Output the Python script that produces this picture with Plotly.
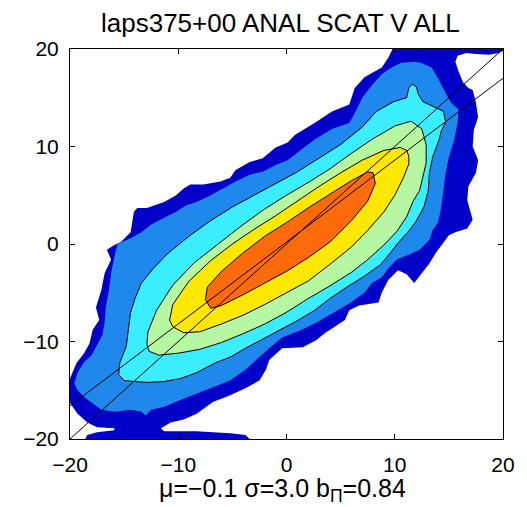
import plotly.graph_objects as go

# Filled density contours of analysis vs. observed V (data units on both axes).
# Each level is the outline of the region above that density threshold.
LEVEL_NAMES = ["1", "2", "3", "4", "5", "6"]
LEVEL_COLORS = ["#0000c8", "#1e88ec", "#3aeeff", "#b6f7a2", "#ffe800", "#ff6a0a"]
LEVEL_OUTLINED = [False, False, True, True, True, True]

level1 = [
    (9.8, 20), (9.4, 19.1), (8.8, 18.1), (7.2, 17.1), (6.3, 16.0), (5.8, 14.3), (4.2, 13.6),
    (2.7, 12.5), (0.8, 11.2), (0.1, 10.4), (-1.0, 9.9), (-2.2, 8.8), (-3.4, 8.4), (-4.7, 7.6),
    (-5.2, 6.8), (-6.1, 6.4), (-7.7, 6.1), (-8.9, 6.1), (-9.5, 5.7), (-10.2, 5.0), (-11.3, 4.3),
    (-12.9, 3.7), (-13.8, 3.7), (-14.1, 3.3), (-14.4, 1.2), (-15.3, 0.2), (-15.9, -0.1),
    (-16.6, -0.6), (-16.2, -1.6), (-16.8, -3.0), (-17.1, -4.7), (-17.6, -6.5), (-17.3, -7.8),
    (-17.9, -8.8), (-18.2, -10.2), (-18.7, -11.2), (-19.4, -12.2), (-19.8, -13.2), (-20, -13.8),
    (-20, -16.3), (-19.3, -17.4), (-18.4, -18.3), (-17.5, -18.8), (-15.9, -18.9), (-15.9, -19.1),
    (-17.5, -19.3), (-18.4, -19.6), (-18.6, -20), (-3.4, -20), (-3.8, -19.6), (-5.2, -19.4),
    (-6.8, -19.3), (-8.3, -19.2), (-9.8, -19.2), (-11.3, -19.2), (-11.6, -18.9), (-10.7, -18.3),
    (-9.5, -18.0), (-8.3, -17.4), (-6.8, -16.2), (-5.2, -15.5), (-3.8, -14.8), (-2.5, -14.0),
    (-1.9, -12.9), (-1.6, -11.9), (-0.4, -10.7), (1.5, -10.6), (2.7, -9.9), (3.6, -9.1),
    (5.4, -7.8), (5.8, -6.8), (6.7, -6.3), (8.5, -6.0), (8.8, -5.0), (9.4, -3.7), (10.3, -2.7),
    (11.1, -3.1), (11.8, -4.0), (12.4, -3.1), (13.2, -2.0), (13.8, -0.9), (14.5, 0.1),
    (15.0, 0.9), (15.6, 1.2), (16.7, 1.6), (17.2, 2.5), (17.0, 3.2), (16.7, 4.5), (16.8, 5.9),
    (17.5, 7.3), (17.7, 8.6), (17.2, 10.0), (17.3, 11.7), (17.7, 13.0), (17.5, 14.5),
    (17.2, 15.8), (16.8, 16.0), (16.3, 16.6), (15.9, 17.7), (15.6, 18.7), (15.8, 19.3),
    (16.6, 19.6), (17.5, 19.5), (18.7, 19.4), (19.6, 19.6), (20, 19.8), (20, 20),
]

level2 = [
    (-15.6, 0.0), (-14.4, 0.6), (-13.4, 1.2), (-12.5, 2.0), (-11.3, 2.7), (-10.2, 3.3),
    (-9.2, 4.0), (-8.3, 4.3), (-7.0, 5.0), (-5.9, 5.7), (-4.7, 6.4), (-3.4, 7.1), (-2.2, 7.4),
    (-1.0, 8.1), (0.1, 8.6), (1.5, 9.8), (2.7, 10.8), (4.2, 11.8), (5.8, 12.4), (6.3, 13.4),
    (7.0, 15.0), (7.9, 16.3), (8.8, 17.4), (9.7, 18.1), (10.6, 18.6), (11.8, 18.7), (12.4, 18.6),
    (13.4, 18.1), (14.0, 17.0), (14.7, 15.5), (15.2, 14.5), (15.9, 13.8), (15.8, 12.4),
    (15.5, 10.7), (15.0, 8.9), (14.7, 7.3), (14.5, 5.5), (14.3, 3.8), (14.0, 2.2), (13.5, 1.4),
    (13.2, 0.4), (12.3, -0.6), (11.3, -1.1), (10.2, -1.6), (9.4, -2.5), (8.8, -3.4), (7.9, -4.0),
    (7.2, -5.0), (5.8, -6.1), (4.2, -7.1), (2.7, -8.1), (1.2, -8.9), (-0.4, -9.6), (-1.6, -10.7),
    (-2.8, -11.9), (-3.8, -12.9), (-5.2, -14.0), (-6.8, -14.7), (-8.3, -15.3), (-9.8, -16.0),
    (-11.3, -16.7), (-12.5, -17.0), (-13.0, -17.6), (-13.4, -17.2), (-14.4, -17.0),
    (-15.9, -17.2), (-17.1, -17.0), (-18.0, -16.3), (-18.7, -15.7), (-19.3, -15.0),
    (-19.6, -14.3), (-19.3, -13.2), (-18.7, -12.1), (-18.0, -11.4), (-17.5, -10.4),
    (-17.0, -9.3), (-16.8, -8.1), (-16.7, -6.5), (-16.4, -4.7), (-16.2, -3.0), (-15.9, -1.3),
]

level3 = [
    (-15.4, -12.2), (-14.8, -10.5), (-14.6, -8.7), (-14.4, -7.0), (-14.0, -5.6), (-13.4, -4.0),
    (-12.3, -2.5), (-11.0, -1.0), (-9.0, 0.8), (-7.0, 2.4), (-5.0, 3.8), (-3.0, 5.0),
    (-1.0, 6.2), (1.0, 7.4), (3.0, 8.8), (5.0, 10.2), (7.0, 12.0), (8.3, 13.6), (9.9, 14.6),
    (11.1, 15.0), (11.3, 16.0), (11.6, 16.4), (12.0, 16.1), (12.2, 15.3), (12.6, 14.6),
    (13.5, 14.1), (14.5, 13.6), (14.7, 12.5), (14.3, 11.6), (14.1, 10.7), (13.5, 8.9),
    (13.2, 7.3), (13.1, 5.5), (12.7, 3.8), (11.9, 2.2), (11.2, 1.2), (10.3, 0.1), (9.6, -0.9),
    (8.7, -2.1), (7.2, -3.3), (5.6, -4.4), (4.0, -5.6), (2.6, -6.8), (1.1, -7.8), (-0.6, -8.8),
    (-2.2, -9.7), (-3.8, -10.7), (-5.2, -11.6), (-6.6, -12.2), (-8.3, -13.2), (-9.8, -13.8),
    (-11.3, -14.1), (-12.8, -14.2), (-14.1, -14.1), (-15.0, -14.0), (-15.5, -13.4),
]

level4 = [
    (-12.9, -10.3), (-12.8, -9.0), (-12.0, -6.8), (-10.5, -4.2), (-8.5, -1.9), (-6.0, 0.3),
    (-4.0, 2.0), (-2.0, 3.6), (0.0, 5.0), (2.0, 6.3), (4.0, 7.7), (6.0, 9.3), (8.0, 10.8),
    (10.0, 12.1), (11.5, 12.6), (12.5, 11.8), (12.9, 10.2), (12.9, 8.3), (12.6, 6.9),
    (12.3, 5.5), (11.7, 4.4), (11.1, 2.8), (10.2, 1.3), (9.0, -0.1), (7.5, -1.6), (6.0, -2.9),
    (4.0, -4.3), (2.0, -5.6), (0.0, -7.0), (-2.0, -8.2), (-4.0, -9.2), (-6.0, -10.1),
    (-8.0, -10.8), (-10.0, -11.2), (-11.8, -11.4), (-12.7, -11.0),
]

level5 = [
    (-10.8, -7.8), (-10.5, -6.2), (-9.0, -3.8), (-7.0, -1.7), (-5.0, 0.0), (-3.0, 1.5),
    (-1.0, 2.9), (1.0, 4.4), (3.0, 5.9), (5.0, 7.3), (7.0, 8.6), (9.0, 9.6), (10.5, 9.9),
    (11.1, 9.6), (11.3, 9.0), (11.3, 8.2), (10.8, 6.8), (10.0, 5.0), (9.0, 3.3), (7.5, 1.4),
    (6.0, -0.3), (4.0, -2.1), (2.0, -3.8), (0.0, -5.0), (-2.0, -6.2), (-4.0, -7.3),
    (-6.0, -8.2), (-8.0, -9.0), (-9.5, -9.1), (-10.5, -8.5),
]

level6 = [
    (-7.5, -5.7), (-7.3, -4.4), (-6.0, -2.8), (-4.0, -0.9), (-2.0, 0.8), (0.0, 2.2),
    (2.0, 3.7), (4.0, 5.1), (6.0, 6.5), (7.5, 7.4), (8.0, 7.3), (8.2, 6.2), (7.5, 4.4),
    (6.0, 2.4), (4.0, 0.2), (2.0, -1.4), (0.0, -2.8), (-2.0, -4.0), (-4.0, -5.2),
    (-6.0, -6.3), (-7.0, -6.6),
]

LEVELS = [level1, level2, level3, level4, level5, level6]

# Reference lines: perfect agreement and the fitted regression
line_x = [-20, 20]
fit_slope = 0.84
fit_intercept = 0.2

TICKS = [-20, -10, 0, 10, 20]
TITLE = "laps375+00 ANAL SCAT V ALL"
XLABEL = "\u03bc=\u22120.1 \u03c3=3.0 b<sub>\u03a0</sub>=0.84"

FONT = "Liberation Sans"

fig = go.Figure()

for name, pts, color, outlined in zip(LEVEL_NAMES, LEVELS, LEVEL_COLORS, LEVEL_OUTLINED):
    xs = [p[0] for p in pts] + [pts[0][0]]
    ys = [p[1] for p in pts] + [pts[0][1]]
    fig.add_trace(go.Scatter(
        x=xs, y=ys, mode="lines", fill="toself", fillcolor=color,
        line=dict(color="black" if outlined else color, width=1 if outlined else 0),
        name=name, hoverinfo="skip", showlegend=False,
    ))

fig.add_trace(go.Scatter(
    x=line_x, y=line_x, mode="lines",
    line=dict(color="black", width=1), showlegend=False, hoverinfo="skip",
))
fig.add_trace(go.Scatter(
    x=line_x, y=[fit_slope * v + fit_intercept for v in line_x], mode="lines",
    line=dict(color="black", width=1), showlegend=False, hoverinfo="skip",
))

axis_style = dict(
    range=[-20, 20], tickvals=TICKS, ticks="inside", ticklen=5, tickwidth=1,
    tickcolor="black", showline=True, linecolor="black", linewidth=1, mirror="ticks",
    showgrid=False, zeroline=False, tickfont=dict(family=FONT, size=21, color="black"),
)

fig.update_layout(
    width=527, height=507,
    margin=dict(l=70, r=19, t=49, b=68),
    paper_bgcolor="white", plot_bgcolor="white",
    xaxis=dict(**axis_style, ticklabelstandoff=7),
    yaxis=dict(**axis_style, ticklabelstandoff=6),
    annotations=[
        dict(text=TITLE, x=0.486, y=1, xref="paper", yref="paper", xanchor="center",
             yanchor="bottom", yshift=9, showarrow=False,
             font=dict(family=FONT, size=26, color="black")),
        dict(text=XLABEL, x=0.49, y=0, xref="paper", yref="paper", xanchor="center",
             yanchor="top", yshift=-33, showarrow=False,
             font=dict(family=FONT, size=25, color="black")),
    ],
)

fig.write_html("out.html")
